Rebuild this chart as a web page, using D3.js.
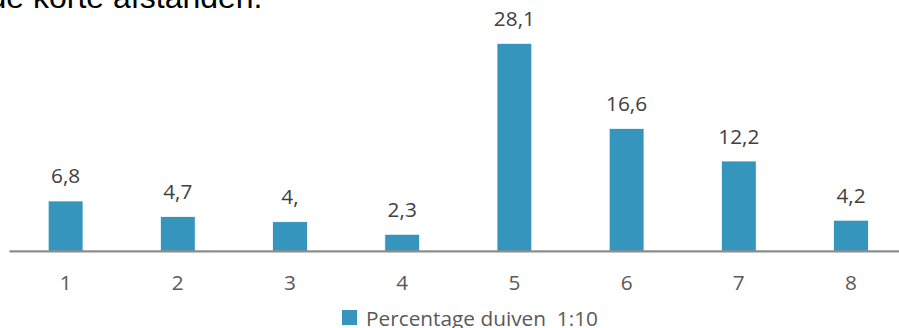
<!DOCTYPE html>
<html>
<head>
<meta charset="utf-8">
<script src="https://cdn.jsdelivr.net/npm/d3@7"></script>
<style>
  html, body { margin: 0; padding: 0; background: #ffffff; }
  svg { display: block; }
  text { white-space: pre; }
</style>
</head>
<body>
<svg id="chart" width="899" height="328"></svg>
<script>
// Afstandsklassen en percentage duiven per klasse
const categories = ["1", "2", "3", "4", "5", "6", "7", "8"];
const values = [6.8, 4.7, 4.0, 2.3, 28.1, 16.6, 12.2, 4.2];
const valueLabels = ["6,8", "4,7", "4,", "2,3", "28,1", "16,6", "12,2", "4,2"];
const seriesName = "Percentage duiven  1:10";
const headingTail = "de korte afstanden.";

const svg = d3.select("#chart");
const barColor = "#3595bc";
const labelFont = "'Open Sans', sans-serif";
const labelSize = 20.8;

const x = d3.scaleBand()
  .domain(categories)
  .range([9.5, 907.1])
  .paddingInner(0.69)
  .paddingOuter(0.345);

const y = d3.scaleLinear()
  .domain([0, 30])
  .range([251.3, 29.3]);

// tail of the paragraph text above the chart
svg.append("text")
  .attr("x", 262.5)
  .attr("y", 8)
  .attr("text-anchor", "end")
  .attr("font-family", "'Liberation Sans', Arial, sans-serif")
  .attr("font-size", 32)
  .attr("fill", "#000000")
  .text(headingTail);

// bars
svg.append("g")
  .selectAll("rect")
  .data(values)
  .join("rect")
  .attr("x", (d, i) => x(categories[i]))
  .attr("y", d => y(d))
  .attr("width", x.bandwidth())
  .attr("height", d => y(0) - y(d))
  .attr("fill", barColor)
  .attr("stroke", "#ffffff")
  .attr("stroke-width", 0.75);

// category axis
const xAxis = svg.append("g")
  .attr("transform", `translate(0,${y(0)})`)
  .call(d3.axisBottom(x).tickSize(0).tickPadding(0));
xAxis.select(".domain")
  .attr("d", `M${x.range()[0]},0H${x.range()[1]}`)
  .attr("stroke", "#8c8c8c")
  .attr("stroke-width", 2.2);
xAxis.selectAll(".tick text")
  .attr("y", 38.7)
  .attr("dy", null)
  .attr("font-family", labelFont)
  .attr("font-size", labelSize)
  .attr("fill", "#595959");

// value labels
svg.append("g")
  .selectAll("text")
  .data(values)
  .join("text")
  .attr("x", (d, i) => x(categories[i]) + x.bandwidth() / 2)
  .attr("y", d => y(d) - 17.5)
  .attr("text-anchor", "middle")
  .attr("font-family", labelFont)
  .attr("font-size", labelSize)
  .attr("fill", "#404040")
  .text((d, i) => valueLabels[i]);

// legend
const legend = svg.append("g").attr("transform", "translate(342,310)");
legend.append("rect")
  .attr("width", 15)
  .attr("height", 15)
  .attr("fill", barColor);
legend.append("text")
  .attr("x", 24)
  .attr("y", 15.5)
  .attr("font-family", labelFont)
  .attr("font-size", labelSize)
  .attr("fill", "#595959")
  .text(seriesName);
</script>
</body>
</html>
